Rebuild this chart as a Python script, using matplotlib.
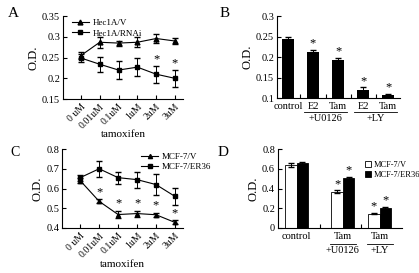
import numpy as np
import matplotlib
matplotlib.use("Agg")
import matplotlib.pyplot as plt

plt.rcParams['font.family'] = ['Liberation Serif', 'DejaVu Serif']
plt.rcParams['font.size'] = 7.5

# panel A data
doses = ["0 uM", "0.01uM", "0.1uM", "1uM", "2uM", "3uM"]
hec_v = [0.255, 0.287, 0.285, 0.287, 0.296, 0.290]
hec_v_err = [0.009, 0.013, 0.006, 0.012, 0.012, 0.008]
hec_rnai = [0.249, 0.234, 0.220, 0.227, 0.210, 0.200]
hec_rnai_err = [0.010, 0.018, 0.022, 0.022, 0.020, 0.020]
hec_rnai_sig = [False, False, False, False, True, True]

# panel B data
b_labels = ["control", "E2", "Tam", "E2", "Tam"]
b_vals = [0.245, 0.212, 0.193, 0.119, 0.108]
b_err = [0.003, 0.006, 0.005, 0.007, 0.002]
b_sig = [False, True, True, True, True]

# panel C data
mcf_v = [0.640, 0.535, 0.468, 0.473, 0.467, 0.428]
mcf_v_err = [0.012, 0.010, 0.020, 0.015, 0.010, 0.010]
mcf_v_sig = [False, True, True, True, True, True]
mcf_er = [0.655, 0.700, 0.655, 0.645, 0.620, 0.560]
mcf_er_err = [0.015, 0.040, 0.030, 0.040, 0.055, 0.045]

# panel D data
d_labels = ["control", "Tam", "Tam"]
d_v = [0.640, 0.365, 0.145]
d_v_err = [0.020, 0.015, 0.008]
d_er = [0.655, 0.510, 0.205]
d_er_err = [0.010, 0.010, 0.010]
d_sig = [False, True, True]

fig = plt.figure(figsize=(4.19, 2.73), dpi=100)


def style(ax):
    ax.spines['top'].set_visible(False)
    ax.spines['right'].set_visible(False)
    ax.tick_params(direction='in', length=3, width=0.8, labelsize=7.5, pad=2)
    ax.tick_params(which='minor', direction='in', length=3, width=0.8)
    ax.set_ylabel("O.D.", fontsize=9, labelpad=2)


def line_series(ax, x, y, err, marker, ms, label):
    ax.errorbar(x, y, yerr=err, color='k', fmt='none', elinewidth=0.7,
                capsize=2)
    ax.plot(x, y, color='k', marker=marker, ms=ms, lw=0.8, label=label)


# ---- A ----
axA = fig.add_axes([0.150, 0.637, 0.287, 0.304])
x = np.arange(len(doses))
line_series(axA, x, hec_v, hec_v_err, '^', 3.5, "Hec1A/V")
line_series(axA, x, hec_rnai, hec_rnai_err, 's', 3, "Hec1A/RNAi")
for i in range(len(x)):
    if hec_rnai_sig[i]:
        axA.text(x[i], hec_rnai[i] + hec_rnai_err[i] + 0.002, "*",
                 ha='center', va='bottom', fontsize=9)
axA.set_xlim(-0.96, 5.43)
axA.set_ylim(0.15, 0.35)
axA.set_yticks([0.15, 0.2, 0.25, 0.3, 0.35])
axA.set_yticklabels(["0.15", "0.2", "0.25", "0.3", "0.35"])
axA.set_xticks(x)
axA.set_xticklabels(doses, rotation=45, ha='right', rotation_mode='anchor',
                    fontsize=7)
axA.set_xlabel("tamoxifen", fontsize=8, labelpad=0)
style(axA)
axA.tick_params(axis='x', labelsize=7)
axA.legend(loc='upper left', bbox_to_anchor=(0.02, 1.04), frameon=False,
           fontsize=6.5, handlelength=1.9, borderpad=0.2, labelspacing=0.2,
           handletextpad=0.4)

# ---- B ----
axB = fig.add_axes([0.661, 0.641, 0.294, 0.300])
xb = np.arange(len(b_vals))
axB.bar(xb, [v - 0.1 for v in b_vals], bottom=0.1, width=0.45, color='k',
        yerr=b_err, error_kw=dict(elinewidth=0.7, capsize=2, ecolor='k'))
for i in range(len(xb)):
    if b_sig[i]:
        axB.text(xb[i], b_vals[i] + b_err[i] + 0.001, "*", ha='center',
                 va='bottom', fontsize=9)
axB.set_xlim(-0.44, 4.48)
axB.set_ylim(0.1, 0.3)
axB.set_yticks([0.1, 0.15, 0.2, 0.25, 0.3])
axB.set_yticklabels(["0.1", "0.15", "0.2", "0.25", "0.3"])
axB.set_xticks(xb)
axB.set_xticklabels(b_labels)
axB.set_xticks(xb[:-1] + 0.5, minor=True)
style(axB)
axB.tick_params(axis='x', which='major', length=0, pad=3)
for (a, b), lab in zip([(1, 2), (3, 4)], ["+U0126", "+LY"]):
    axB.plot([a - 0.35, b + 0.35], [0.066, 0.066], color='k', lw=0.6,
             clip_on=False)
    axB.text((a + b) / 2, 0.061, lab, ha='center', va='top', fontsize=7.5)

# ---- C ----
axC = fig.add_axes([0.148, 0.165, 0.289, 0.289])
line_series(axC, x, mcf_v, mcf_v_err, '^', 3, "MCF-7/V")
line_series(axC, x, mcf_er, mcf_er_err, 's', 3, "MCF-7/ER36")
for i in range(len(x)):
    if mcf_v_sig[i]:
        axC.text(x[i], mcf_v[i] + mcf_v_err[i] + 0.005, "*", ha='center',
                 va='bottom', fontsize=9)
axC.set_xlim(-0.96, 5.43)
axC.set_ylim(0.4, 0.8)
axC.set_yticks([0.4, 0.5, 0.6, 0.7, 0.8])
axC.set_xticks(x)
axC.set_xticklabels(doses, rotation=45, ha='right', rotation_mode='anchor',
                    fontsize=7)
axC.set_xlabel("tamoxifen", fontsize=8, labelpad=1)
style(axC)
axC.tick_params(axis='x', labelsize=7)
axC.legend(loc='upper left', bbox_to_anchor=(0.60, 1.03), frameon=False,
           fontsize=6.5, handlelength=1.9, borderpad=0.2, labelspacing=0.2,
           handletextpad=0.4)

# ---- D ----
axD = fig.add_axes([0.663, 0.165, 0.296, 0.289])
xd = np.array([0, 1, 1.8])
w = 0.25
axD.bar(xd - w / 2, d_v, width=w, color='white', edgecolor='k', lw=0.6,
        yerr=d_v_err, error_kw=dict(elinewidth=0.7, capsize=2, ecolor='k'),
        label="MCF-7/V")
axD.bar(xd + w / 2, d_er, width=w, color='k', edgecolor='k', lw=0.6,
        yerr=d_er_err, error_kw=dict(elinewidth=0.7, capsize=2, ecolor='k'),
        label="MCF-7/ER36")
for i in range(len(xd)):
    if d_sig[i]:
        axD.text(xd[i] - w / 2, d_v[i] + d_v_err[i] + 0.005, "*",
                 ha='center', va='bottom', fontsize=9)
        axD.text(xd[i] + w / 2, d_er[i] + d_er_err[i] + 0.005, "*",
                 ha='center', va='bottom', fontsize=9)
axD.set_xlim(-0.41, 2.28)
axD.set_ylim(0, 0.8)
axD.set_yticks([0, 0.2, 0.4, 0.6, 0.8])
axD.set_yticklabels(["0", "0.2", "0.4", "0.6", "0.8"])
axD.set_xticks(xd)
axD.set_xticklabels(d_labels)
axD.set_xticks([0.5, 1.4], minor=True)
style(axD)
axD.tick_params(axis='x', which='major', length=0, pad=3)
for xc, lab in zip(xd[1:], ["+U0126", "+LY"]):
    axD.plot([xc - 0.28, xc + 0.28], [-0.165, -0.165], color='k', lw=0.6,
             clip_on=False)
    axD.text(xc, -0.18, lab, ha='center', va='top', fontsize=7.5)
axD.legend(loc='upper left', bbox_to_anchor=(0.66, 0.92), frameon=False,
           fontsize=6, handlelength=0.7, handleheight=0.7, borderpad=0.2,
           labelspacing=0.2, handletextpad=0.3)

# panel letters
fig.text(0.018, 0.975, "A", fontsize=11, va='top')
fig.text(0.525, 0.975, "B", fontsize=11, va='top')
fig.text(0.025, 0.465, "C", fontsize=10, va='top')
fig.text(0.520, 0.465, "D", fontsize=11, va='top')

fig.savefig("out.png", dpi=100)
